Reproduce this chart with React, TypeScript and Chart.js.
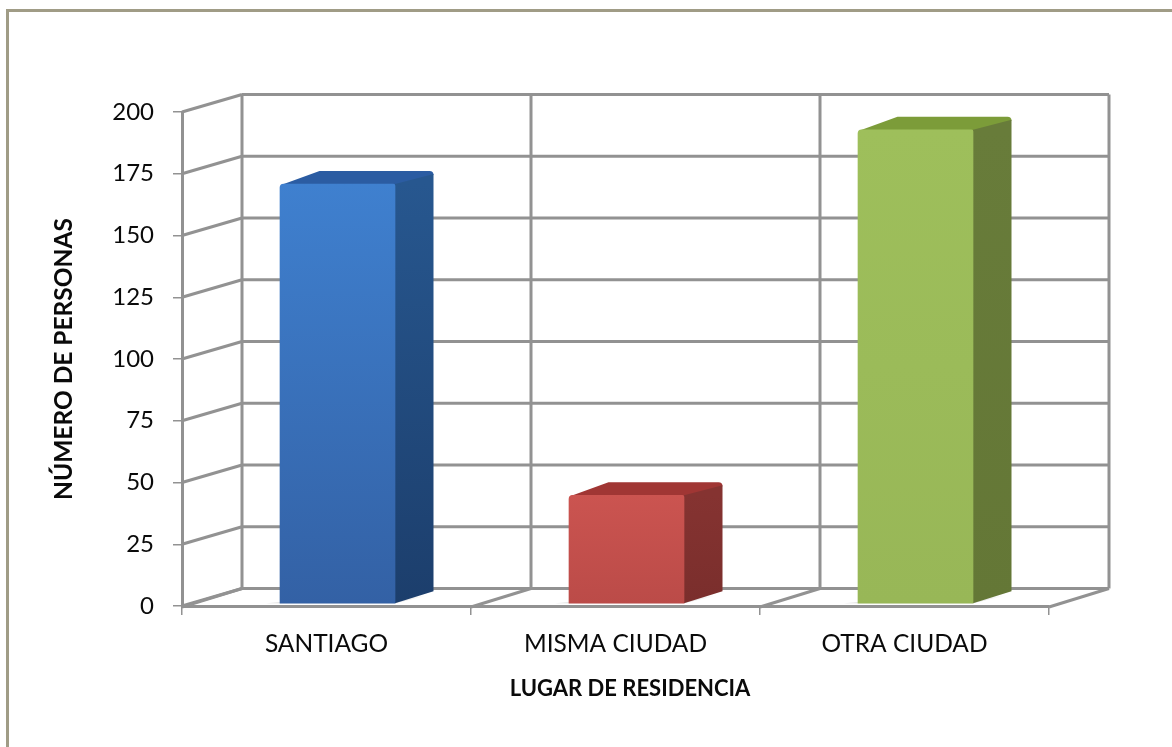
import React, { useEffect, useRef } from "react";
import { Chart, registerables } from "chart.js";

Chart.register(...registerables);

const categories = ["SANTIAGO", "MISMA CIUDAD", "OTRA CIUDAD"];
const personas = [170, 44, 192];
const yTitle = "NÚMERO DE PERSONAS";
const xTitle = "LUGAR DE RESIDENCIA";
const frontTop = ["#3f80cf", "#cb5450", "#9ebf5b"];
const frontBottom = ["#3361a5", "#bb4b48", "#98b757"];
const sideTop = ["#27578f", "#853331", "#687c3a"];
const sideBottom = ["#1c3e6c", "#7a2e2c", "#647736"];
const topFace = ["#2b5ca2", "#a03634", "#7c9c39"];

const GRID = "#929292";
const TEXT = "#0a0a0a";
const DX = 60;
const DY = -17.5;
const BAR_OFF_X = 11;
const BAR_OFF_Y = -2;
const BAR_DX = 38.5;
const BAR_DY = -13;

const frame = {
  id: "frame",
  beforeDraw(chart: any) {
    const { ctx, width, height } = chart;
    ctx.save();
    ctx.fillStyle = "#ffffff";
    ctx.fillRect(0, 0, width, height);
    ctx.fillStyle = "#a09c86";
    ctx.fillRect(6, 9, width - 6, 3);
    ctx.fillRect(6, 9, 3, height - 9);
    ctx.restore();
  },
};

const walls = {
  id: "walls",
  beforeDatasetsDraw(chart: any) {
    const { ctx, scales, chartArea } = chart;
    const { y } = scales;
    ctx.save();
    ctx.strokeStyle = GRID;
    ctx.lineWidth = 3;
    const line = (a: number, b: number, c: number, d: number) => {
      ctx.beginPath();
      ctx.moveTo(a, b);
      ctx.lineTo(c, d);
      ctx.stroke();
    };
    y.ticks.forEach((t: any) => {
      const py = y.getPixelForValue(t.value);
      line(chartArea.left, py, chartArea.left + DX, py + DY);
      line(chartArea.left + DX, py + DY, chartArea.right + DX, py + DY);
    });
    const step = (chartArea.right - chartArea.left) / categories.length;
    for (let i = 0; i <= categories.length; i++) {
      const px = chartArea.left + step * i;
      line(px, chartArea.bottom + 1, px + DX, chartArea.bottom + DY);
      line(px + DX, chartArea.bottom + DY, px + DX, chartArea.top + DY);
    }
    // x axis title, centred under the plot as in the reference
    ctx.fillStyle = TEXT;
    ctx.font = "bold 22px Lato";
    ctx.textAlign = "center";
    ctx.textBaseline = "middle";
    ctx.fillText(xTitle, 630, 688.5);
    ctx.restore();
  },
};

const solids = {
  id: "solids",
  beforeDatasetDraw(chart: any, args: any) {
    const { ctx } = chart;
    ctx.save();
    ctx.translate(BAR_OFF_X, BAR_OFF_Y);
    args.meta.data.forEach((bar: any, i: number) => {
      const { x, y, base, width } = bar.getProps(["x", "y", "base", "width"], true);
      const r = x + width / 2;
      const l = x - width / 2;
      // soft shadow on the floor
      const sh = ctx.createLinearGradient(0, base, 0, base - 8);
      sh.addColorStop(0, "rgba(120,120,120,0.28)");
      sh.addColorStop(1, "rgba(120,120,120,0)");
      ctx.fillStyle = sh;
      ctx.beginPath();
      ctx.moveTo(l - 14, base);
      ctx.lineTo(r, base);
      ctx.lineTo(r + BAR_DX + 16, base + BAR_DY);
      ctx.lineTo(r + BAR_DX, base + BAR_DY);
      ctx.closePath();
      ctx.fill();
      // top face
      ctx.fillStyle = topFace[i];
      ctx.beginPath();
      ctx.moveTo(l + 1, y + 1);
      ctx.lineTo(l + BAR_DX + 1, y + BAR_DY);
      ctx.lineTo(r + BAR_DX - 4, y + BAR_DY);
      ctx.quadraticCurveTo(r + BAR_DX, y + BAR_DY, r + BAR_DX, y + BAR_DY + 4);
      ctx.lineTo(r, y + 1);
      ctx.closePath();
      ctx.fill();
      // side face
      const g = ctx.createLinearGradient(0, y, 0, base);
      g.addColorStop(0, sideTop[i]);
      g.addColorStop(1, sideBottom[i]);
      ctx.fillStyle = g;
      ctx.beginPath();
      ctx.moveTo(r, y);
      ctx.lineTo(r + BAR_DX, y + BAR_DY + 3);
      ctx.lineTo(r + BAR_DX, base + BAR_DY + 1);
      ctx.lineTo(r, base);
      ctx.closePath();
      ctx.fill();
    });
  },
  afterDatasetDraw(chart: any) {
    chart.ctx.restore();
  },
};

const frontFill = (c: any) => {
  const i = c.dataIndex ?? 0;
  const s = c.chart.scales?.y;
  if (!s || c.raw === undefined) return frontTop[i];
  const a = s.getPixelForValue(c.raw);
  const b = s.getPixelForValue(0);
  if (!Number.isFinite(a) || !Number.isFinite(b)) return frontTop[i];
  const g = c.chart.ctx.createLinearGradient(0, a, 0, b);
  g.addColorStop(0, frontTop[i]);
  g.addColorStop(1, frontBottom[i]);
  return g;
};

export default function App() {
  const ref = useRef<HTMLCanvasElement>(null);
  useEffect(() => {
    const chart = new Chart(ref.current as HTMLCanvasElement, {
      type: "bar",
      data: {
        labels: categories,
        datasets: [
          {
            data: personas,
            backgroundColor: frontFill,
            barThickness: 115,
            borderRadius: { topLeft: 4, topRight: 2, bottomLeft: 0, bottomRight: 0 },
            borderSkipped: false,
            clip: false,
          } as any,
        ],
      },
      plugins: [frame, walls, solids],
      options: {
        responsive: false,
        animation: false,
        devicePixelRatio: 1,
        layout: { padding: { top: 112, right: 123, left: 0, bottom: 0 } },
        plugins: { legend: { display: false }, tooltip: { enabled: false } },
        scales: {
          x: {
            afterFit(s: any) {
              s.height = 141;
            },
            grid: {
              drawOnChartArea: false,
              drawTicks: true,
              tickLength: 9,
              color: GRID,
              lineWidth: 1.5,
            },
            border: { display: true, color: GRID, width: 3 },
            ticks: {
              color: TEXT,
              font: { family: "Lato", size: 24.5 },
              padding: 14,
              maxRotation: 0,
            },
          },
          y: {
            min: 0,
            max: 200,
            afterFit(s: any) {
              s.width = 182;
            },
            grid: {
              drawOnChartArea: false,
              drawTicks: true,
              tickLength: 9,
              color: GRID,
              lineWidth: 1.5,
            },
            border: { display: true, color: GRID, width: 3 },
            ticks: {
              stepSize: 25,
              color: TEXT,
              font: { family: "Lato", size: 24 },
              padding: 19,
            },
            title: {
              display: true,
              text: yTitle,
              color: TEXT,
              font: { family: "Lato", size: 24.5, weight: "bold" },
              padding: { top: 49, bottom: 0 },
            },
          },
        },
      },
    } as any);
    return () => chart.destroy();
  }, []);
  return (
    <div style={{ position: "absolute", left: 0, top: 0, width: 1172, height: 747 }}>
      <canvas ref={ref} width={1172} height={747} style={{ display: "block", filter: "blur(0.5px)" }} />
    </div>
  );
}
